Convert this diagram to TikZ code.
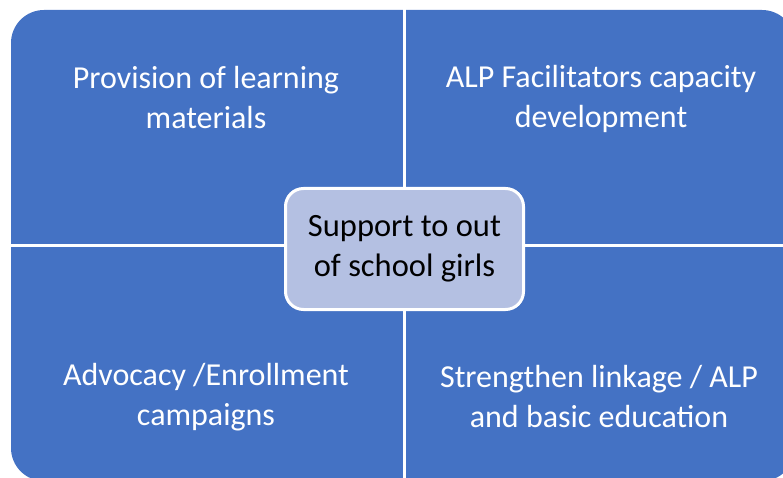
\documentclass[tikz,border=0pt]{standalone}
\usepackage{fontspec}
\setmainfont{Carlito}
\usepackage{tikz}
\usetikzlibrary{positioning}
\definecolor{quadblue}{RGB}{68,114,196}
\definecolor{hubblue}{RGB}{180,192,226}

\begin{document}
\begin{tikzpicture}[x=1pt, y=-1pt,
    quad/.style={text=white, align=center, font=\fontsize{32}{40}\selectfont},
    hub/.style={draw=white, line width=3pt, fill=hubblue, rounded corners=18pt,
      minimum width=238pt, minimum height=121pt, align=center,
      font=\fontsize{32.5}{40}\selectfont}]
  \useasboundingbox (0,0) rectangle (783,478);
  % Define quadrants
  \begin{scope}
    \clip (0,0) rectangle (783,478);
    \fill[quadblue, rounded corners=33pt] (11,10) rectangle (795,481);
  \end{scope}
  \draw[white, line width=3pt] (404,8) -- (404,482);
  \draw[white, line width=3pt] (9,245) -- (785,245);
  % Define nodes
  \node[quad] (provision)    at (206,98)  {Provision of learning\\materials};
  \node[quad] (facilitators) at (601,99)  {ALP Facilitators capacity\\development};
  \node[quad] (advocacy)     at (206,397) {Advocacy /Enrollment\\campaigns};
  \node[quad] (linkage)      at (599,397) {Strengthen linkage / ALP\\and basic education};
  \node[hub]  (support)      at (404.5,249) {Support to out\\of school girls};
\end{tikzpicture}
\end{document}
